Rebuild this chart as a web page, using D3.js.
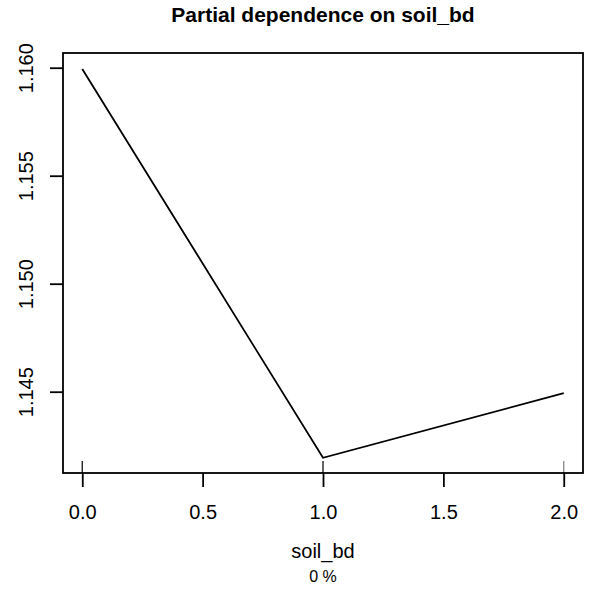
<!DOCTYPE html>
<html>
<head>
<meta charset="utf-8">
<script src="https://cdn.jsdelivr.net/npm/d3@7"></script>
<style>
  html, body { margin: 0; padding: 0; background: #fff; }
  text { font-family: "Liberation Sans", Arial, Helvetica, sans-serif; fill: #000; }
</style>
</head>
<body>
<svg id="chart" width="591" height="593"></svg>
<script>
// Data
const xValues = [0, 1, 2];
const yValues = [1.15994, 1.14194, 1.14493];
const rugValues = [0, 1, 2];
const xTicks = [0, 0.5, 1, 1.5, 2];
const yTicks = [1.145, 1.150, 1.155, 1.160];
const title = "Partial dependence on soil_bd";
const xLabel = "soil_bd";
const subLabel = "0 %";

(function () {
const svg = d3.select("#chart");
const pLeft = 63, pRight = 583, pTop = 53, pBottom = 473;

const x = d3.scaleLinear().domain([-0.08, 2.08]).range([pLeft, pRight]);
const y = d3.scaleLinear().domain([1.141236, 1.160681]).range([pBottom, pTop]);

// line
const line = d3.line().x((d, i) => x(xValues[i])).y(d => y(d));
svg.append("path")
  .datum(yValues)
  .attr("d", line)
  .attr("fill", "none")
  .attr("stroke", "#000")
  .attr("stroke-width", 1.8)
  .attr("stroke-linejoin", "miter");

// rug
svg.selectAll("line.rug").data(rugValues).enter().append("line")
  .attr("class", "rug")
  .attr("x1", d => x(d)).attr("x2", d => x(d))
  .attr("y1", pBottom - 12).attr("y2", pBottom)
  .attr("stroke", (d, i) => i === 2 ? "#888" : "#111")
  .attr("stroke-width", 1.3);

// box
svg.append("rect")
  .attr("x", pLeft).attr("y", pTop)
  .attr("width", pRight - pLeft).attr("height", pBottom - pTop)
  .attr("fill", "none").attr("stroke", "#000").attr("stroke-width", 1.8);

// x axis
const xAxis = d3.axisBottom(x).tickValues(xTicks).tickFormat(d3.format(".1f")).tickSize(14);
const gx = svg.append("g").attr("transform", `translate(0,${pBottom})`).call(xAxis);
gx.select(".domain").remove();
gx.selectAll(".tick line").attr("stroke", "#000").attr("stroke-width", 1.8);
gx.selectAll(".tick text").attr("font-size", 20).attr("font-family", "Liberation Sans, Arial, sans-serif").attr("fill", "#000").attr("dy", null).attr("y", 46);

// y axis
const yAxis = d3.axisLeft(y).tickValues(yTicks).tickFormat(d3.format(".3f")).tickSize(13);
const gy = svg.append("g").attr("transform", `translate(${pLeft},0)`).call(yAxis);
gy.select(".domain").remove();
gy.selectAll(".tick line").attr("stroke", "#000").attr("stroke-width", 1.8);
gy.selectAll(".tick text")
  .attr("font-size", 20).attr("font-family", "Liberation Sans, Arial, sans-serif").attr("fill", "#000")
  .attr("x", null).attr("dy", null)
  .attr("text-anchor", "middle")
  .attr("transform", "translate(-30,0) rotate(-90)");

// title
svg.append("text")
  .attr("x", (pLeft + pRight) / 2).attr("y", 22)
  .attr("text-anchor", "middle")
  .attr("font-size", 21).attr("font-weight", "bold")
  .text(title);

// x label
svg.append("text")
  .attr("x", (pLeft + pRight) / 2).attr("y", 558)
  .attr("text-anchor", "middle")
  .attr("font-size", 20)
  .text(xLabel);

// sub label
svg.append("text")
  .attr("x", (pLeft + pRight) / 2).attr("y", 582)
  .attr("text-anchor", "middle")
  .attr("font-size", 16)
  .text(subLabel);
})();
</script>
</body>
</html>
